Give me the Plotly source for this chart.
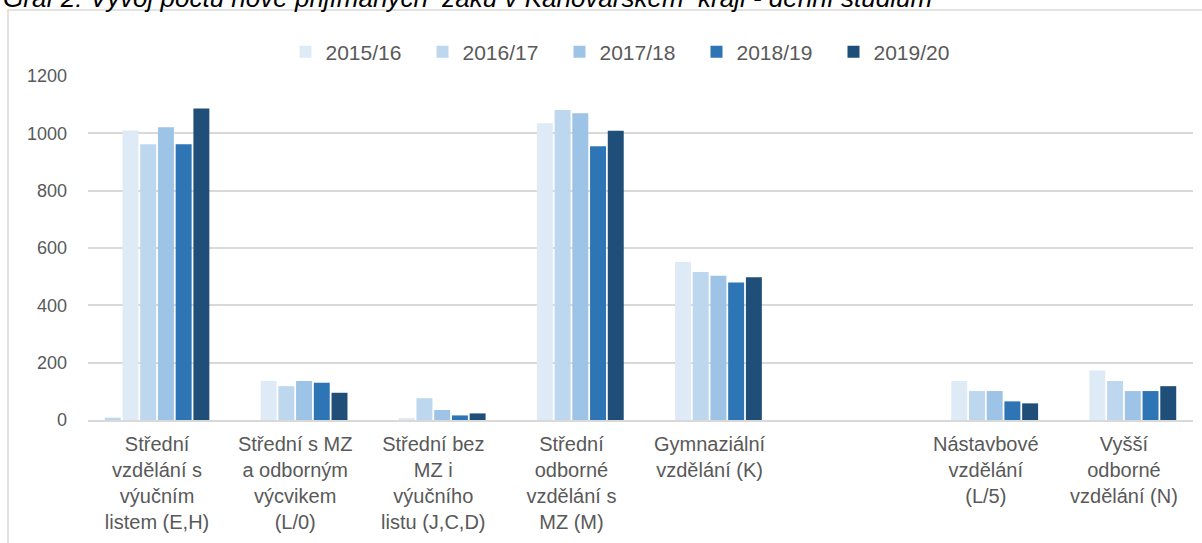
import plotly.graph_objects as go

categories = [
    "Střední<br>vzdělání s<br>výučním<br>listem (E,H)",
    "Střední s MZ<br>a odborným<br>výcvikem<br>(L/0)",
    "Střední bez<br>MZ i<br>výučního<br>listu (J,C,D)",
    "Střední<br>odborné<br>vzdělání s<br>MZ (M)",
    "Gymnaziální<br>vzdělání (K)",
    " ",
    "Nástavbové<br>vzdělání<br>(L/5)",
    "Vyšší<br>odborné<br>vzdělání (N)",
]

series_names = ["", "2015/16", "2016/17", "2017/18", "2018/19", "2019/20"]
extra = [8, None, None, None, None, None, None, None]
y2015 = [1010, 136, 6, 1035, 551, None, 136, 173]
y2016 = [962, 118, 76, 1081, 516, None, 101, 136]
y2017 = [1021, 136, 35, 1070, 503, None, 101, 101]
y2018 = [962, 130, 16, 955, 480, None, 65, 101]
y2019 = [1087, 95, 23, 1009, 498, None, 58, 118]
colors = ["#BDD7EE", "#DEEBF7", "#BDD7EE", "#9DC3E6", "#2E75B6", "#1F4E79"]
y_ticks = [0, 200, 400, 600, 800, 1000, 1200]

title_text = "Graf 2: Vývoj počtu nově přijímaných  žáků v Karlovarském  kraji - denní studium"

FONT = "Liberation Sans, Arial, sans-serif"
GREY = "#595959"

fig = go.Figure()
all_series = [extra, y2015, y2016, y2017, y2018, y2019]
for name, vals, col in zip(series_names, all_series, colors):
    fig.add_trace(go.Bar(
        x=categories, y=vals, name=name, marker_color=col,
        marker_line_width=0, showlegend=(name != ""),
    ))

W, H = 1202, 543
ml, mr, mt, mb = 88, 9, 76, 123
ph = H - mt - mb
pw = W - ml - mr

def px_x(p):
    return (p - ml) / pw

def px_y(p):
    return (H - mb - p) / ph

fig.update_layout(
    width=W, height=H,
    margin=dict(l=ml, r=mr, t=mt, b=mb, autoexpand=False),
    paper_bgcolor="white", plot_bgcolor="white",
    barmode="group", bargap=0.23, bargroupgap=0.1,
    font=dict(family=FONT, size=18, color=GREY),
    legend=dict(orientation="h", x=px_x(628), xanchor="center",
                y=px_y(52), yanchor="middle",
                font=dict(family=FONT, size=21, color=GREY),
                traceorder="normal", entrywidth=92, itemclick=False),
    xaxis=dict(showgrid=False, showline=True, linecolor="#D9D9D9", linewidth=2,
               ticks="", tickangle=0, ticklabelstandoff=5,
               tickfont=dict(size=20, color=GREY)),
    yaxis=dict(range=[0, 1200], tickvals=y_ticks, showgrid=True,
               gridcolor="#D9D9D9", gridwidth=1.5, zeroline=False,
               ticks="", ticklabelstandoff=20, tickfont=dict(size=18, color=GREY)),
    shapes=[dict(type="rect", xref="paper", yref="paper",
                 x0=px_x(8), x1=px_x(1210), y0=px_y(560), y1=px_y(10),
                 line=dict(color="#D9D9D9", width=1.5), layer="below")],
    annotations=[dict(text="<i>" + title_text + "</i>", xref="paper", yref="paper",
                      x=px_x(1), xanchor="left", y=px_y(-1.5), yanchor="middle",
                      showarrow=False, font=dict(family=FONT, size=26, color="black"))],
)

fig.write_html("out.html", config={"displayModeBar": False},
               post_script="document.body.style.margin='0';")
